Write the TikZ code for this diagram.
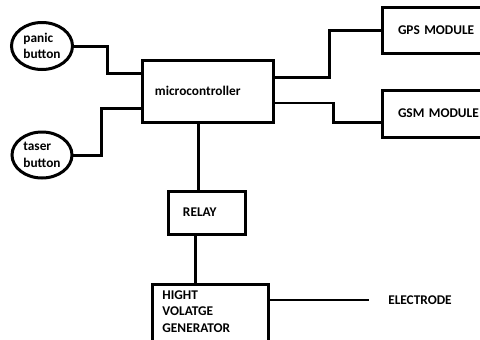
\documentclass[tikz,border=0pt]{standalone}
\usepackage{fontspec}
\setmainfont{Carlito}
\usetikzlibrary{positioning,shapes.geometric,calc}

\begin{document}
\begin{tikzpicture}[x=0.75pt, y=-0.75pt,
  every node/.style={font=\fontsize{10}{12.5}\selectfont\bfseries},
  btn/.style={draw, ellipse, line width=2.25pt, inner sep=0pt, align=left},
  blockbox/.style={draw, rectangle, line width=2.25pt, align=left, inner ysep=0pt},
  wire/.style={line width=2.25pt},
  thinwire/.style={line width=1.6pt}]
  \useasboundingbox (0,0) rectangle (480,340);
  \clip (0,0) rectangle (480,340);
  \fill[white] (0,0) rectangle (480,340);

  %--- Input buttons ---
  \node[btn, minimum width=45.75pt, minimum height=35.25pt] (panic) at (42,46) {panic\\button};
  \node[btn, minimum width=45pt, minimum height=34.5pt] (taser) at (42,155) {taser\\button};

  % Controller
  \node[blockbox, minimum height=46.5pt, inner xsep=9pt, text width=80.25pt] (micro) at (208.5,91) {microcontroller};

  %--- Modules ---
  \node[blockbox, minimum height=34.5pt, inner xsep=11.25pt, text width=65.25pt] (gps) at (441.5,30) {GPS MODULE};
  \node[blockbox, minimum height=35.25pt, inner xsep=11.25pt, text width=65.25pt] (gsm) at (441.5,113.5) {GSM MODULE};

  % Relay and generator
  \node[blockbox, minimum height=32.25pt, inner xsep=10.5pt, text width=36.75pt] (relay) at (207.5,212.5) {RELAY};
  \node[blockbox, anchor=north west, inner xsep=7.5pt, inner ysep=4.5pt, text width=72pt, text depth=40pt] (hvg) at (151,283) {HIGHT\\VOLATGE\\GENERATOR};
  \node[inner sep=0pt] (electrode) at (420,300) {ELECTRODE};

  %--- Connections ---
  \draw[wire] (panic.east) -- ++(34,0) |- ([yshift=13.5pt]micro.west);
  \draw[wire] (taser.east) -- ++(28,0) |- ([yshift=-12.75pt]micro.west);
  \draw[wire] ([yshift=10.5pt]micro.east) -- ++(54,0) |- (gps.west);
  \draw[thinwire] ([yshift=-9pt]micro.east) -- ++(58,0) |- ([yshift=-6.75pt]gsm.west);
  \draw[wire] ([xshift=-7.125pt]micro.south) -- ([xshift=-7.125pt]micro.south |- relay.north);
  \draw[wire] ([xshift=-8.625pt]relay.south) -- ([xshift=-8.625pt]relay.south |- hvg.north);
  \draw[thinwire] (hvg.north east |- electrode.west) -- ([xshift=-14.25pt]electrode.west);
\end{tikzpicture}
\end{document}
